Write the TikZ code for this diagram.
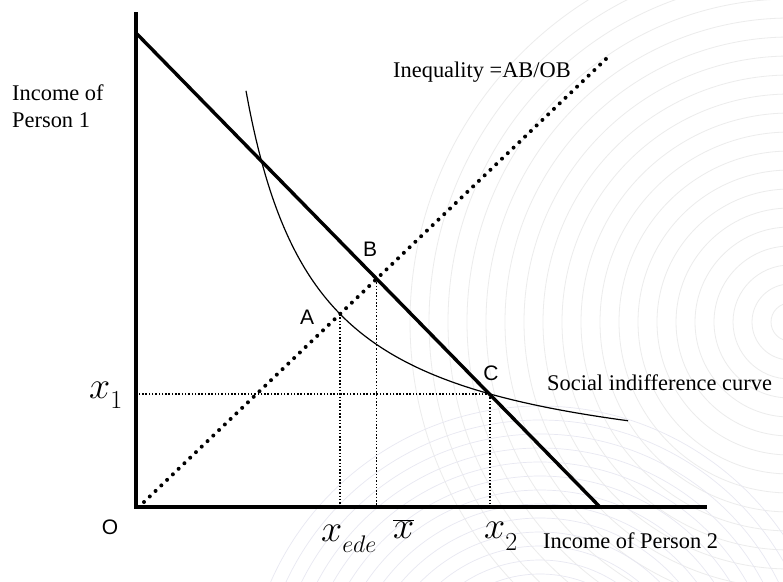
\RequirePackage{fix-cm}
\documentclass[tikz,border=0pt]{standalone}
\usepackage{fontspec}
\setmainfont{Liberation Serif}
\newfontfamily\arialfont{Liberation Sans}
\definecolor{ringgray}{RGB}{236,236,236}
\definecolor{ringblue}{RGB}{232,232,242}
\begin{document}
\begin{tikzpicture}[x=1pt,y=-1pt,
  axisline/.style={line width=3.4pt, line join=miter},
  budget/.style={line width=3.4pt},
  bigdots/.style={line width=4pt, line cap=round, dash pattern=on 0pt off 8pt},
  guide/.style={line width=1.5pt, dash pattern=on 1.5pt off 1.8pt},
  sicurve/.style={line width=1.2pt},
  lbl/.style={font=\fontsize{22.4}{27}\selectfont, inner sep=0, anchor=base west},
  ptlbl/.style={font=\arialfont\fontsize{21}{24}\selectfont, inner sep=0},
  mathlbl/.style={font=\fontsize{38}{40}\selectfont, inner sep=0, anchor=base west},
  ringa/.style={line width=0.8pt, draw=ringgray},
  ringb/.style={line width=0.7pt, draw=ringblue}]

\useasboundingbox (0,0) rectangle (783,581);
\fill[white] (0,0) rectangle (783,581);

% faint background rings
\begin{scope}
  \clip (0,0) rectangle (783,581);
  \foreach \r in {19,38,...,380} \draw[ringa] (790,322) circle[radius=\r pt];
  \foreach \r in {14,28,...,300} \draw[ringb] (540,700) circle[radius=\r pt];
\end{scope}

% key points
\coordinate (O) at (136,507);
\coordinate (ytop) at (136,12);
\coordinate (xend) at (707,507);
\coordinate (bl1) at (137,34);
\coordinate (bl2) at (600,507);
\coordinate (d1) at (144,502);
\coordinate (d2) at (607,58);
\coordinate (B) at (intersection of bl1--bl2 and d1--d2);
\coordinate (A) at (340,314);
\coordinate (C) at (490,394);

% guide lines
\draw[guide] (A) -- (A |- O);
\draw[guide] (B) -- (B |- O);
\draw[guide] (C) -- (C |- O);
\draw[guide] (C) -- (C -| O);

% equality diagonal
\draw[bigdots] (d1) -- (d2);

% social indifference curve
\draw[sicurve] plot[domain=246:628, samples=120, smooth] ({\x},{481.8-276.4/((\x-175.3)/100)});

% budget line
\draw[budget] (bl1) -- (bl2);

% axes
\draw[axisline] (ytop) -- (O) -- (xend);

% texts
\node[lbl] (ylab1) at (12,100) {Income of};
\node[lbl] (ylab2) at (12,127) {Person 1};
\node[lbl] (ineq) at (393,77) {Inequality =AB/OB};
\node[lbl] (sic) at (547,390) {Social indifference curve};
\node[lbl] (xlab) at (543,548) {Income of Person 2};

\node[ptlbl] (Alab) at (307,317) {A};
\node[ptlbl] (Blab) at (370,249) {B};
\node[ptlbl] (Clab) at (491,373) {C};
\node[ptlbl] (Olab) at (110,527) {O};

\node[mathlbl] (x1) at (89,398) {$x$\raisebox{-10pt}{\fontsize{26}{26}\selectfont$1$}};
\node[mathlbl] (xede) at (321,541) {$x$\raisebox{-11pt}{\fontsize{24}{24}\selectfont$ede$}};
\node[mathlbl] (xbar) at (393,538) {$\overline{x}$};
\node[mathlbl] (x2) at (484,538) {$x$\raisebox{-12pt}{\fontsize{26}{26}\selectfont$2$}};
\end{tikzpicture}
\end{document}
